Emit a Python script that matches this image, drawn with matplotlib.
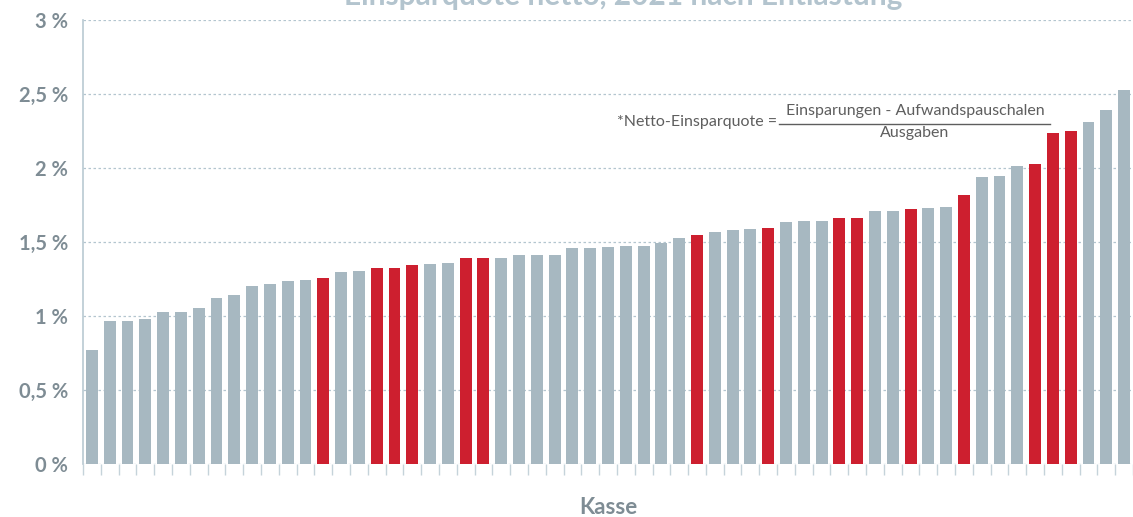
import numpy as np
import matplotlib.pyplot as plt

# Netto-Einsparquote je Kasse (in %), sortiert
quote = [0.77, 0.966, 0.966, 0.98, 1.027, 1.027, 1.054, 1.122, 1.142, 1.203,
         1.216, 1.236, 1.243, 1.257, 1.297, 1.304, 1.324, 1.324, 1.345, 1.351,
         1.358, 1.392, 1.392, 1.392, 1.412, 1.412, 1.412, 1.459, 1.459, 1.466,
         1.473, 1.473, 1.493, 1.527, 1.547, 1.568, 1.581, 1.588, 1.595, 1.635,
         1.642, 1.642, 1.662, 1.662, 1.711, 1.711, 1.723, 1.730, 1.736, 1.818,
         1.939, 1.946, 2.014, 2.027, 2.236, 2.250, 2.311, 2.392, 2.527]
# hervorgehobene Kassen (rot)
markiert = [13, 16, 17, 18, 21, 22, 34, 38, 42, 43, 46, 49, 53, 54, 55]
y_ticks = [0, 0.5, 1, 1.5, 2, 2.5, 3]
y_labels = ['0 %', '0,5 %', '1 %', '1,5 %', '2 %', '2,5 %', '3 %']

grau = '#a7b8c1'
rot = '#cd1f2f'
text_grau = '#7e8c94'
formel_grau = '#5e5e5e'

plt.rcParams['font.family'] = ['Lato', 'DejaVu Sans']

fig = plt.figure(figsize=(11.33, 5.17), dpi=100)
ax = fig.add_axes([0.0733, 0.1025, 0.9267, 0.8588])

x = np.arange(len(quote))
farben = [rot if i in markiert else grau for i in x]
ax.bar(x, quote, width=0.67, color=farben, edgecolor='none', zorder=3)

ax.set_xlim(-0.45, len(quote) - 0.65)
ax.set_ylim(0, 3)
ax.set_yticks(y_ticks)
ax.set_yticklabels(y_labels, fontsize=14.5, fontweight='bold', color=text_grau)
ax.yaxis.grid(True, ls=(0, (2, 2)), color='#b3c5cf', lw=0.9, zorder=0)
ax.tick_params(axis='y', length=0, pad=11)

# Striche zwischen den Kassen
ax.set_xticks(np.arange(len(quote) + 1) - 0.5)
ax.set_xticklabels([])
ax.tick_params(axis='x', length=8, color='#c5d3da', width=1)

for s in ['top', 'right', 'bottom']:
    ax.spines[s].set_visible(False)
ax.spines['left'].set_color('#b9c9d2')
ax.spines['left'].set_linewidth(1.2)

fig.text(608 / 1133, 1 - 507 / 517, 'Kasse', ha='center', va='center',
         fontsize=16, fontweight='bold', color=text_grau)

# Titel ist oben abgeschnitten (wie im Original)
fig.text(623 / 1133, 1 - 5 / 517, 'Einsparquote netto, 2021 nach Entlastung',
         ha='center', va='baseline', fontsize=21.5, fontweight='bold', color='#b3c4ce')

# Formel
fig.text(777 / 1133, 1 - 122 / 517, '*Netto-Einsparquote =', ha='right', va='center',
         fontsize=11.5, color=formel_grau)
fig.text(915 / 1133, 1 - 111 / 517, 'Einsparungen - Aufwandspauschalen', ha='center',
         va='center', fontsize=11.5, color=formel_grau)
fig.text(915 / 1133, 1 - 133 / 517, 'Ausgaben', ha='center', va='center',
         fontsize=11.5, color=formel_grau)
fig.add_artist(plt.Line2D([779 / 1133, 1050 / 1133], [1 - 124 / 517, 1 - 124 / 517],
                          color=formel_grau, lw=1))

fig.savefig('out.png', dpi=100)
